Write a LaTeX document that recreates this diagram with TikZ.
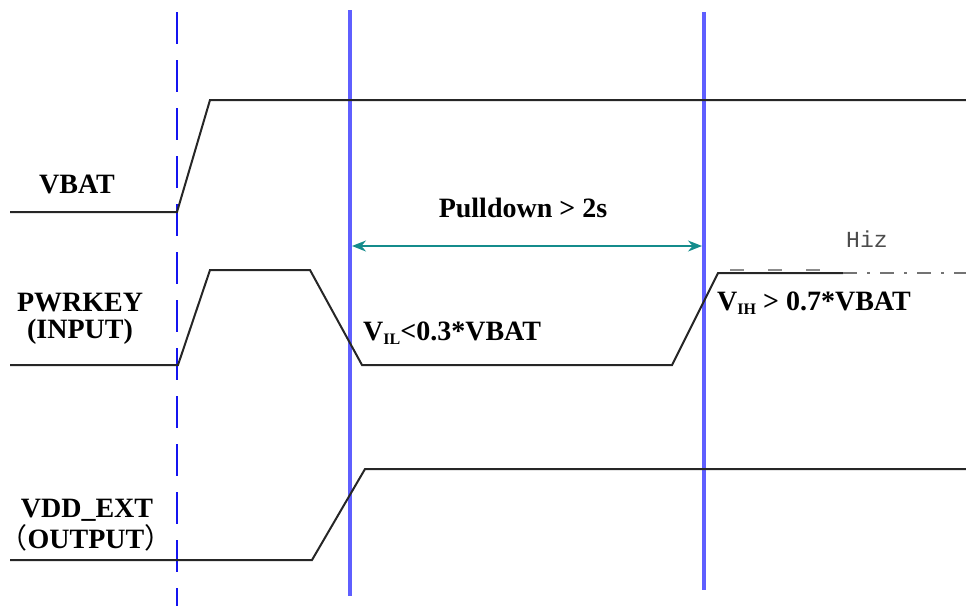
\documentclass[tikz,border=0pt]{standalone}
\usepackage{fontspec}
\setmainfont{Liberation Serif}
\newfontfamily\cjk{Noto Sans CJK SC}
\newfontfamily\hizfont{Liberation Mono}
\usetikzlibrary{arrows.meta}
\definecolor{markerblue}{RGB}{95,95,255}
\definecolor{dashblue}{RGB}{20,20,240}
\definecolor{teal2}{RGB}{20,140,140}
\begin{document}
\begin{tikzpicture}[x=1pt,y=-1pt,
  sig/.style={line width=2pt,black!85},
  marker/.style={line width=3.2pt,markerblue},
  dmarker/.style={line width=2.4pt,dashblue,dash pattern=on 32pt off 16pt},
  lbl/.style={font=\fontsize{28}{30}\selectfont\bfseries,inner sep=0pt}]
\useasboundingbox (0,0) rectangle (966,606);
% marker lines
\coordinate (d1) at (177,12); \coordinate (d2) at (177,606);
\draw[dmarker] (d1) -- (d2);
\coordinate (m1a) at (350,10); \coordinate (m1b) at (350,596);
\draw[marker] (m1a) -- (m1b);
\coordinate (m2a) at (704,12); \coordinate (m2b) at (704,590);
\draw[marker] (m2a) -- (m2b);
% VBAT
\draw[sig] (10,212) -- (177,212) -- (210,100) -- (966,100);
% PWRKEY
\draw[sig] (10,365) -- (178,365) -- (210,270) -- (310,270) -- (362,365) -- (672,365) -- (718,273) -- (843,273);
\draw[line width=2pt,black!55,dash pattern=on 14pt off 10pt on 3pt off 10pt] (843,273) -- (966,273);
\draw[line width=2pt,black!45,dash pattern=on 14pt off 24pt] (730,270) -- (843,270);
% VDD_EXT
\draw[sig] (10,560) -- (312,560) -- (365,469) -- (966,469);
% arrow
\coordinate (aL) at (352,246); \coordinate (aR) at (702,246);
\draw[teal2,line width=1.6pt,{Stealth[length=14pt,width=11pt]}-{Stealth[length=14pt,width=11pt]}] (aL) -- (aR);
% labels
\node[lbl,anchor=base] (vbat) at (77,193) {VBAT};
\node[lbl,anchor=base] (pwr) at (80,311) {PWRKEY};
\node[lbl,anchor=base] (inp) at (80,338) {(INPUT)};
\node[lbl,anchor=base] (vdd) at (87,517) {VDD\_EXT};
\node[lbl,anchor=base] (outp) at (86,548) {{\cjk\mdseries （}OUTPUT{\cjk\mdseries ）}};
\node[lbl,anchor=base] (pull) at (523,217) {Pulldown > 2s};
\node[lbl,anchor=base west] (vil) at (363,340) {V\raisebox{-4pt}{\fontsize{16}{16}\selectfont IL}<0.3*VBAT};
\node[lbl,anchor=base west] (vih) at (717,310) {V\raisebox{-4pt}{\fontsize{16}{16}\selectfont IH} > 0.7*VBAT};
\node[anchor=base west,inner sep=0pt,text=black!70,font=\hizfont\fontsize{23}{26}\selectfont] (hiz) at (846,247) {Hiz};
\end{tikzpicture}
\end{document}
